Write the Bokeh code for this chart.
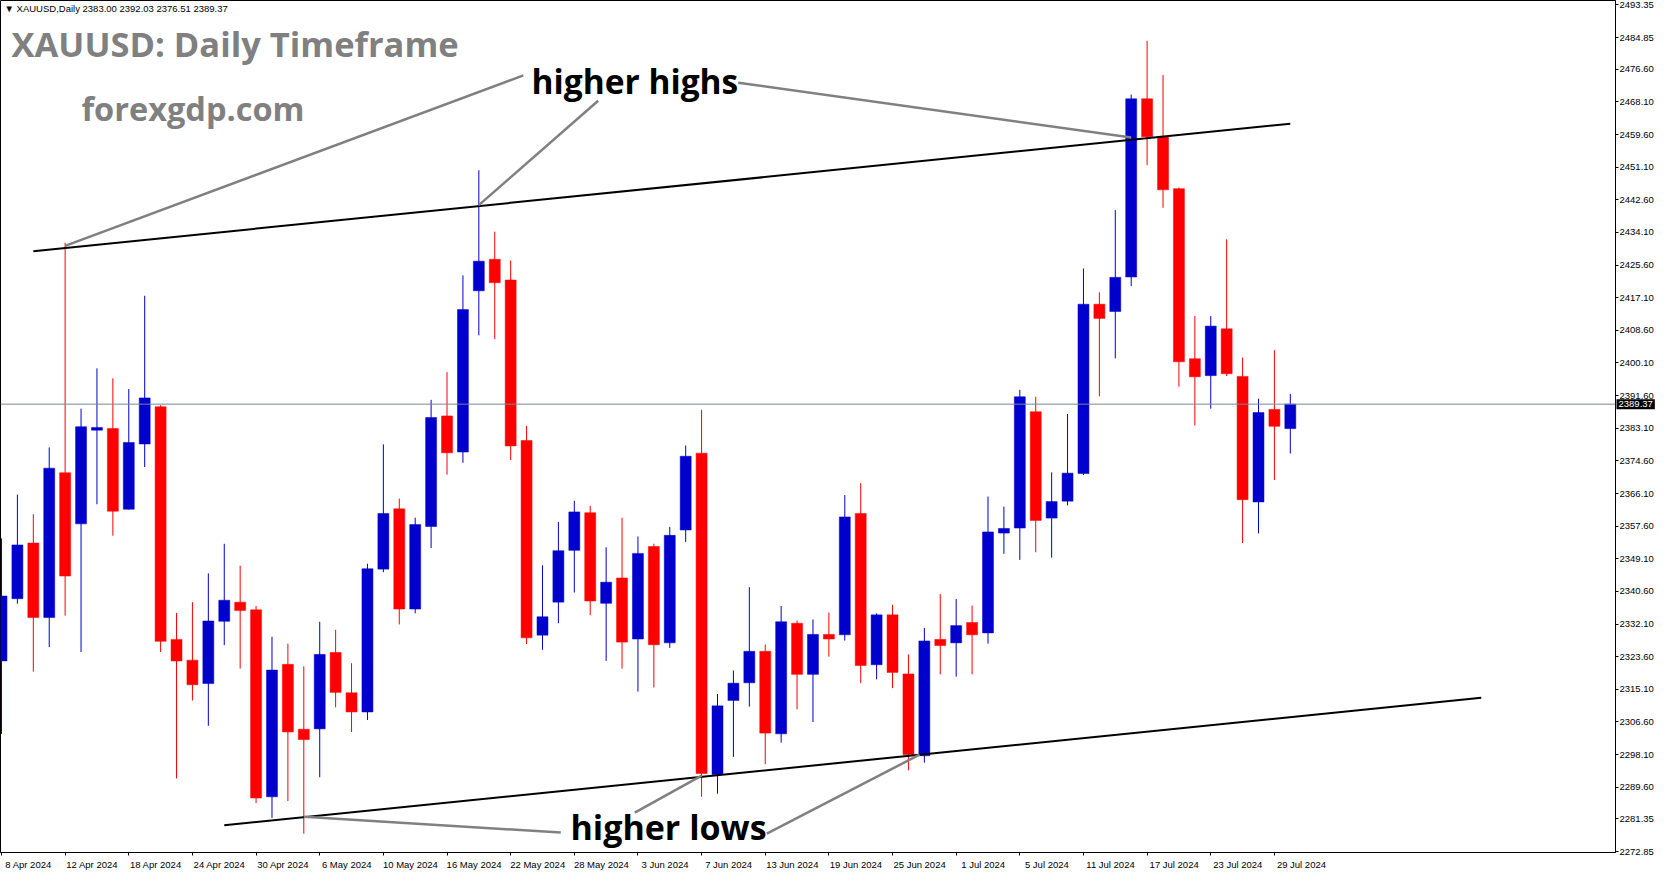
import pandas as pd
from bokeh.plotting import figure
from bokeh.models import Range1d, LinearAxis, FixedTicker, Label, NumeralTickFormatter, ColumnDataSource
from bokeh.embed import file_html
from bokeh.resources import INLINE

# ---------------- data ----------------
dates = [d.strftime("%Y-%m-%d") for d in pd.bdate_range("2024-04-08", "2024-07-30")]

opens = [2322.5, 2338.7, 2353.2, 2333.8, 2371.5, 2358.2, 2382.6, 2383.0, 2362.0, 2379.0,
         2388.7, 2328.1, 2322.7, 2316.6, 2332.8, 2337.8, 2335.8, 2287.1, 2321.6, 2304.7,
         2304.8, 2324.7, 2314.2, 2309.2, 2346.4, 2362.1, 2336.0, 2357.5, 2386.3, 2376.9,
         2418.9, 2427.1, 2421.7, 2379.9, 2329.2, 2337.8, 2351.3, 2361.1, 2337.5, 2344.1,
         2328.2, 2352.3, 2327.2, 2356.6, 2376.6, 2292.9, 2312.2, 2316.8, 2325.0, 2303.5,
         2332.3, 2319.0, 2329.4, 2329.3, 2360.9, 2321.5, 2334.5, 2319.1, 2297.8, 2328.1,
         2327.2, 2332.5, 2329.8, 2355.8, 2357.1, 2387.4, 2359.7, 2364.1, 2371.3, 2415.4,
         2413.5, 2422.5, 2468.9, 2459.1, 2445.5, 2401.2, 2396.8, 2409.0, 2396.6, 2363.9,
         2388.0, 2383.00]
highs = [2354.4, 2365.8, 2360.7, 2378.1, 2431.4, 2388.2, 2398.7, 2396.1, 2393.3, 2417.6,
         2389.1, 2335.0, 2337.8, 2345.3, 2353.0, 2347.3, 2336.8, 2328.8, 2327.0, 2321.1,
         2332.7, 2330.6, 2321.9, 2347.8, 2378.9, 2364.8, 2359.8, 2390.5, 2397.7, 2422.9,
         2450.3, 2434.3, 2426.8, 2383.7, 2347.4, 2358.7, 2364.2, 2362.9, 2352.1, 2359.8,
         2354.9, 2353.0, 2357.4, 2378.6, 2387.9, 2313.9, 2320.0, 2341.7, 2326.8, 2336.8,
         2333.0, 2333.3, 2335.1, 2365.7, 2368.8, 2334.9, 2337.1, 2324.2, 2331.1, 2339.9,
         2338.6, 2336.9, 2365.3, 2362.7, 2393.1, 2391.3, 2371.6, 2386.8, 2424.7, 2418.5,
         2439.9, 2470.0, 2484.0, 2475.1, 2445.8, 2412.3, 2412.3, 2432.3, 2401.5, 2390.8,
         2403.4, 2392.03]
lows = [2303.5, 2337.4, 2319.7, 2326.1, 2334.3, 2324.8, 2363.3, 2355.1, 2361.9, 2373.0,
        2324.8, 2291.9, 2312.2, 2305.6, 2326.6, 2320.5, 2285.5, 2281.6, 2286.0, 2277.5,
        2292.2, 2310.4, 2304.0, 2307.1, 2345.6, 2332.0, 2334.9, 2351.9, 2371.0, 2374.1,
        2407.3, 2406.3, 2374.8, 2326.9, 2325.4, 2332.3, 2340.3, 2334.4, 2322.5, 2320.5,
        2314.5, 2315.6, 2325.9, 2353.5, 2287.1, 2287.9, 2297.5, 2310.6, 2295.6, 2301.2,
        2309.9, 2306.6, 2323.6, 2327.8, 2316.7, 2317.7, 2315.4, 2294.0, 2296.0, 2319.0,
        2318.4, 2319.0, 2327.0, 2350.4, 2348.8, 2350.8, 2349.4, 2363.0, 2370.9, 2391.4,
        2401.3, 2420.1, 2451.6, 2440.5, 2393.9, 2383.8, 2388.2, 2396.7, 2353.2, 2355.7,
        2369.6, 2376.51]
closes = [2339.4, 2352.7, 2333.8, 2372.7, 2344.6, 2383.5, 2383.3, 2361.5, 2379.4, 2391.0,
          2327.6, 2322.5, 2316.3, 2332.9, 2338.3, 2335.6, 2286.8, 2320.1, 2304.0, 2302.0,
          2324.2, 2314.3, 2309.2, 2346.5, 2360.9, 2336.0, 2358.0, 2385.9, 2376.7, 2414.0,
          2426.6, 2421.0, 2378.5, 2328.5, 2334.0, 2351.2, 2361.3, 2338.1, 2343.0, 2327.4,
          2350.5, 2326.7, 2355.2, 2375.8, 2293.2, 2310.8, 2316.7, 2325.0, 2303.7, 2332.7,
          2319.0, 2329.4, 2328.2, 2360.0, 2321.3, 2334.5, 2319.5, 2298.1, 2327.7, 2326.5,
          2331.7, 2329.3, 2356.1, 2357.0, 2391.3, 2359.1, 2364.0, 2371.4, 2415.4, 2411.7,
          2422.4, 2468.9, 2459.0, 2445.2, 2400.4, 2396.5, 2409.7, 2397.3, 2364.5, 2387.2,
          2383.6, 2389.37]

x_tick_dates = ["2024-04-08", "2024-04-12", "2024-04-18", "2024-04-24", "2024-04-30",
                "2024-05-06", "2024-05-10", "2024-05-16", "2024-05-22", "2024-05-28",
                "2024-06-03", "2024-06-07", "2024-06-13", "2024-06-19", "2024-06-25",
                "2024-07-01", "2024-07-05", "2024-07-11", "2024-07-17", "2024-07-23",
                "2024-07-29"]
x_tick_labels = ["8 Apr 2024", "12 Apr 2024", "18 Apr 2024", "24 Apr 2024", "30 Apr 2024",
                 "6 May 2024", "10 May 2024", "16 May 2024", "22 May 2024", "28 May 2024",
                 "3 Jun 2024", "7 Jun 2024", "13 Jun 2024", "19 Jun 2024", "25 Jun 2024",
                 "1 Jul 2024", "5 Jul 2024", "11 Jul 2024", "17 Jul 2024", "23 Jul 2024",
                 "29 Jul 2024"]
y_ticks = [2493.35, 2484.85, 2476.60, 2468.10, 2459.60, 2451.10, 2442.60, 2434.10,
           2425.60, 2417.10, 2408.60, 2400.10, 2391.60, 2383.10, 2374.60, 2366.10,
           2357.60, 2349.10, 2340.60, 2332.10, 2323.60, 2315.10, 2306.60, 2298.10,
           2289.60, 2281.35, 2272.85]
last_price = 2389.37

# drawn trendlines: (bar index, price) end points
channel_upper_x = [2.0, 81.0]
channel_upper_y = [2429.2, 2462.4]
channel_lower_x = [14.0, 93.0]
channel_lower_y = [2279.7, 2312.9]
pointer_x0 = [4.0, 30.0, 46.3, 19.0, 39.8, 48.1]
pointer_y0 = [2430.6, 2441.2, 2473.1, 2281.9, 2283.0, 2277.5]
pointer_x1 = [32.8, 37.5, 71.0, 35.15, 44.0, 57.7]
pointer_y1 = [2475.0, 2468.4, 2458.8, 2277.8, 2292.6, 2298.1]

# ---------------- figure ----------------
FW, FH = 1615, 852
X0, X1 = -0.0625, 101.4375
idx = list(range(len(dates)))

p = figure(frame_width=FW, frame_height=FH, x_range=Range1d(X0, X1),
           y_range=Range1d(2272.6, 2494.5), output_backend="svg", toolbar_location=None,
           x_axis_location=None, y_axis_location=None,
           min_border_left=0, min_border_top=0, min_border_right=0, min_border_bottom=0,
           background_fill_color="white", border_fill_color="white")
p.grid.visible = False
p.outline_line_color = "black"
p.outline_line_width = 1

up_col, dn_col = "#0000CD", "#FF0000"
src = ColumnDataSource(dict(
    x=idx, o=opens, h=highs, l=lows, c=closes,
    top=[max(a, b) for a, b in zip(opens, closes)],
    bot=[min(a, b) for a, b in zip(opens, closes)],
    col=[up_col if c >= o else dn_col for o, c in zip(opens, closes)],
))
p.segment("x", "h", "x", "l", source=src, line_color="col", line_width=1)
p.vbar(x="x", width=0.69, top="top", bottom="bot", source=src,
       fill_color="col", line_color="col", line_width=0.5)

# current price line
p.line([X0, X1], [last_price, last_price], line_color="#778899", line_width=1)

# channel lines
p.line(channel_upper_x, channel_upper_y, line_color="black", line_width=2)
p.line(channel_lower_x, channel_lower_y, line_color="black", line_width=2)
# pointer lines
p.segment(pointer_x0, pointer_y0, pointer_x1, pointer_y1, line_color="#808080", line_width=2.5)

# ---------------- axes ----------------
yax = LinearAxis(ticker=FixedTicker(ticks=y_ticks), formatter=NumeralTickFormatter(format="0.00"),
                 major_tick_out=3, major_tick_in=0, minor_tick_out=0, minor_tick_in=0,
                 major_label_standoff=1, axis_line_color="black", major_tick_line_color="black",
                 major_label_text_font="Liberation Sans", major_label_text_font_size="9.5px",
                 major_label_text_color="black")
p.add_layout(yax, "right")

# x axis: labels start just right of their tick marks (label positions shifted,
# the tick marks themselves drawn as minor ticks at the true bar positions)
tick_pos = [dates.index(d) for d in x_tick_dates]
LBL_OFF = 1.7
p.extra_x_ranges = {"lbl": Range1d(X0 - LBL_OFF, X1 - LBL_OFF)}
xax = LinearAxis(x_range_name="lbl",
                 ticker=FixedTicker(ticks=tick_pos, minor_ticks=[t - LBL_OFF for t in tick_pos]),
                 major_label_overrides={t: s for t, s in zip(tick_pos, x_tick_labels)},
                 major_tick_out=0, major_tick_in=0, minor_tick_out=3, minor_tick_in=0,
                 minor_tick_line_color="black",
                 axis_line_color="black", major_label_standoff=3,
                 major_label_text_font="Liberation Sans", major_label_text_font_size="9.5px",
                 major_label_text_color="black")
p.add_layout(xax, "below")

# ---------------- texts ----------------
p.add_layout(Label(x=4, y=FH - 8, x_units="screen", y_units="screen",
                   text="\u25bc XAUUSD,Daily  2383.00 2392.03 2376.51 2389.37",
                   text_font="Liberation Sans", text_font_size="9.5px", text_color="black",
                   text_baseline="middle"))
p.add_layout(Label(x=11, y=FH - 42.5, x_units="screen", y_units="screen",
                   text="XAUUSD: Daily Timeframe", text_font="Open Sans", text_font_style="bold",
                   text_font_size="34.5px", text_color="#808080", text_baseline="alphabetic"))
p.add_layout(Label(x=81, y=FH - 108, x_units="screen", y_units="screen",
                   text="forexgdp.com", text_font="Open Sans", text_font_style="bold",
                   text_font_size="32.5px", text_color="#808080", text_baseline="alphabetic"))
p.add_layout(Label(x=531, y=FH - 80.5, x_units="screen", y_units="screen",
                   text="higher highs", text_font="Open Sans", text_font_style="bold",
                   text_font_size="33.5px", text_color="black", text_baseline="alphabetic"))
p.add_layout(Label(x=570, y=26, x_units="screen", y_units="screen",
                   text="higher lows", text_font="Open Sans", text_font_style="bold",
                   text_font_size="34px", text_color="black", text_baseline="alphabetic"))

# current price tag on the price axis (placed in a side panel so that it is not
# clipped to the plotting frame; its height follows the price scale)
p.add_layout(Label(x=FW + 1, y=last_price, x_units="screen", y_units="data",
                   text=f"{last_price:.2f}", text_font="Liberation Sans", text_font_size="9.5px",
                   text_color="white", background_fill_color="black", text_baseline="middle",
                   padding=2, level="overlay"), "below")

open("out.html", "w").write(file_html(p, INLINE))
